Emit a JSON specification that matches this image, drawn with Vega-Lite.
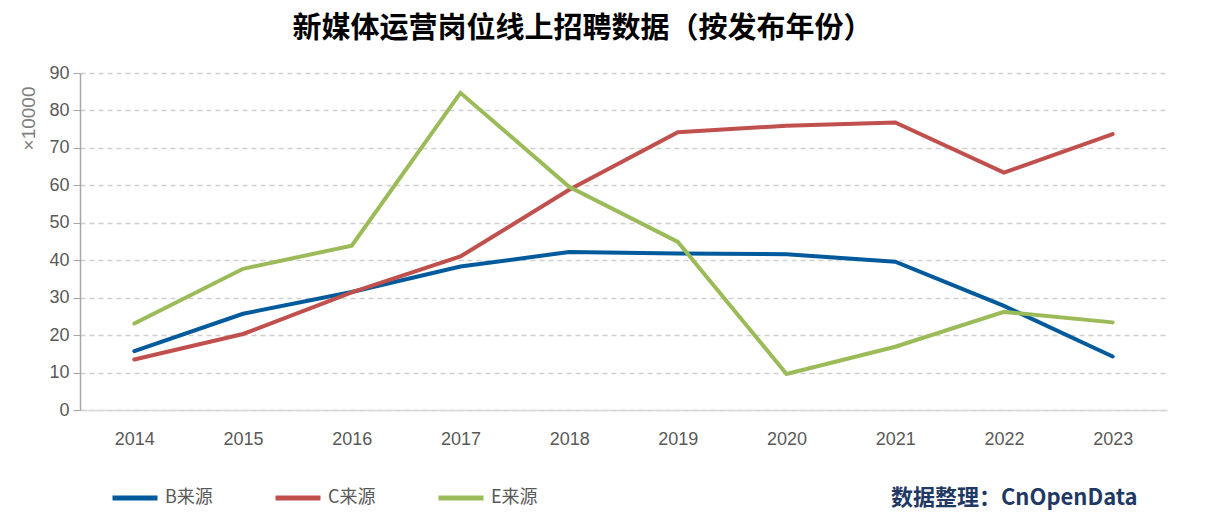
{
  "$schema": "https://vega.github.io/schema/vega-lite/v6.json",
  "width": 1087,
  "height": 337,
  "autosize": {"type": "none"},
  "padding": {"left": 80, "top": 73, "right": 38, "bottom": 113},
  "background": "white",
  "title": {
    "text": "新媒体运营岗位线上招聘数据（按发布年份）",
    "font": "Noto Sans CJK SC",
    "fontSize": 29,
    "fontWeight": "bold",
    "color": "#000000",
    "anchor": "middle",
    "frame": "group",
    "dx": -41,
    "offset": 20
  },
  "data": {
    "values": [
      {"year": "2014", "source": "B来源", "value": 15.7},
      {"year": "2015", "source": "B来源", "value": 25.7},
      {"year": "2016", "source": "B来源", "value": 31.5},
      {"year": "2017", "source": "B来源", "value": 38.3},
      {"year": "2018", "source": "B来源", "value": 42.2},
      {"year": "2019", "source": "B来源", "value": 41.8},
      {"year": "2020", "source": "B来源", "value": 41.6},
      {"year": "2021", "source": "B来源", "value": 39.6},
      {"year": "2022", "source": "B来源", "value": 27.8},
      {"year": "2023", "source": "B来源", "value": 14.3},
      {"year": "2014", "source": "C来源", "value": 13.5},
      {"year": "2015", "source": "C来源", "value": 20.3},
      {"year": "2016", "source": "C来源", "value": 31.4},
      {"year": "2017", "source": "C来源", "value": 41.0},
      {"year": "2018", "source": "C来源", "value": 58.8},
      {"year": "2019", "source": "C来源", "value": 74.2},
      {"year": "2020", "source": "C来源", "value": 75.9},
      {"year": "2021", "source": "C来源", "value": 76.8},
      {"year": "2022", "source": "C来源", "value": 63.4},
      {"year": "2023", "source": "C来源", "value": 73.7},
      {"year": "2014", "source": "E来源", "value": 23.1},
      {"year": "2015", "source": "E来源", "value": 37.7},
      {"year": "2016", "source": "E来源", "value": 43.9},
      {"year": "2017", "source": "E来源", "value": 84.7},
      {"year": "2018", "source": "E来源", "value": 59.6},
      {"year": "2019", "source": "E来源", "value": 44.9},
      {"year": "2020", "source": "E来源", "value": 9.6},
      {"year": "2021", "source": "E来源", "value": 16.9},
      {"year": "2022", "source": "E来源", "value": 26.2},
      {"year": "2023", "source": "E来源", "value": 23.4}
    ]
  },
  "mark": {"type": "line", "strokeWidth": 4, "strokeCap": "round", "strokeJoin": "miter"},
  "encoding": {
    "x": {
      "field": "year",
      "type": "ordinal",
      "scale": {"type": "point", "padding": 0.5},
      "axis": {
        "labelAngle": 0,
        "labelPadding": 20,
        "ticks": false,
        "domainColor": "#d9d9d9",
        "domainWidth": 1.5,
        "grid": false,
        "title": "数据整理：CnOpenData",
        "titleFont": "Noto Sans CJK SC",
        "titleFontSize": 22,
        "titleFontWeight": "bold",
        "titleColor": "#1f3864",
        "titleX": 1057,
        "titleY": 87,
        "titleAlign": "right",
        "titleBaseline": "middle"
      }
    },
    "y": {
      "field": "value",
      "type": "quantitative",
      "scale": {"domain": [0, 90]},
      "axis": {
        "values": [0, 10, 20, 30, 40, 50, 60, 70, 80, 90],
        "tickSize": 7,
        "tickColor": "#a6a6a6",
        "domainColor": "#a6a6a6",
        "domainWidth": 1.5,
        "labelPadding": 4,
        "gridColor": "#d0d0d0",
        "gridDash": [5, 4],
        "gridWidth": 1.5,
        "title": "×10000",
        "titleFont": "Liberation Sans",
        "titleFontSize": 19,
        "titleFontWeight": "normal",
        "titleColor": "#7f7f7f",
        "titleX": -52,
        "titleY": 45,
        "titleAngle": -90,
        "titleAlign": "center",
        "titleBaseline": "middle"
      }
    },
    "color": {
      "field": "source",
      "type": "nominal",
      "scale": {"domain": ["B来源", "C来源", "E来源"], "range": ["#005a9c", "#c0504d", "#9bbb59"]},
      "legend": {
        "title": null,
        "orient": "none",
        "direction": "horizontal",
        "legendX": 30,
        "legendY": 400,
        "symbolType": "stroke",
        "symbolSize": 2025,
        "symbolStrokeWidth": 5,
        "symbolOffset": 0,
        "labelOffset": 5,
        "columnPadding": 52,
        "labelFont": "Noto Sans CJK SC",
        "labelFontSize": 18,
        "labelColor": "#595959"
      }
    }
  },
  "config": {
    "view": {"stroke": null},
    "axis": {
      "labelFont": "Liberation Sans",
      "labelFontSize": 18,
      "labelColor": "#595959"
    }
  }
}
